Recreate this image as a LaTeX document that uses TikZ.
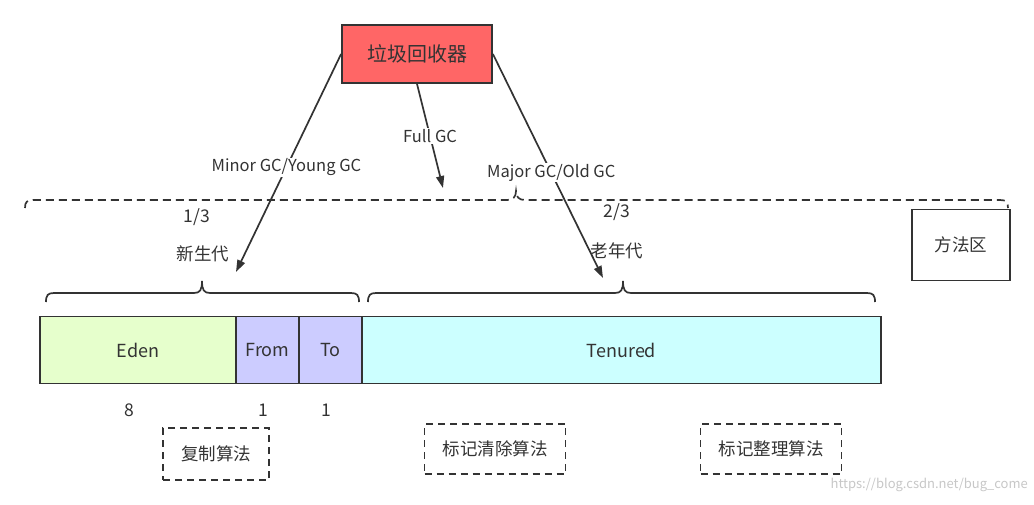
\documentclass[tikz,border=0pt]{standalone}
\usepackage{fontspec}
\setmainfont{Noto Sans CJK SC}
\usetikzlibrary{arrows.meta}
\definecolor{ln}{HTML}{333333}
\definecolor{redbox}{HTML}{FF6666}
\definecolor{edenc}{HTML}{E6FFCC}
\definecolor{survc}{HTML}{CCCCFF}
\definecolor{tenc}{HTML}{CCFFFF}
\tikzset{
  arr/.style={draw=ln, line width=1.7pt, -{Triangle[length=12pt,width=8pt]}},
  lbl/.style={fill=white, inner sep=1pt, font=\fontsize{16.5}{19}\selectfont, text=ln},
  txt/.style={font=\fontsize{17.5}{20}\selectfont, text=ln},
  cell/.style={draw=ln, line width=1.8pt, minimum height=67pt, font=\fontsize{18}{21}\selectfont, text=ln, inner sep=0pt},
  algbox/.style={draw=ln, line width=1.7pt, dash pattern=on 7pt off 5pt, inner sep=0pt, font=\fontsize{17.5}{20}\selectfont, text=ln},
  bracel/.style={draw=ln, line width=1.7pt}
}
\begin{document}
\begin{tikzpicture}[x=1pt,y=-1pt]
\useasboundingbox (0,0) rectangle (1034,504);
% garbage collector box
\node[draw=ln, line width=1.8pt, fill=redbox, minimum width=150pt, minimum height=58pt, inner sep=0pt, font=\fontsize{20}{24}\selectfont, text=ln] (gc) at (417,54) {垃圾回收器};
% end points of arrows
\coordinate (youngend) at (236,272);
\coordinate (fullend) at (443,188);
\coordinate (oldend) at (603,278);
\draw[arr] (gc.west) -- node[lbl, pos=0.52] {Minor GC/Young GC} (youngend);
\draw[arr] (gc.south) -- node[lbl, pos=0.5] {Full GC} (fullend);
\draw[arr] (gc.east) -- node[lbl, pos=0.53] {Major GC/Old GC} (oldend);
% dashed top brace
\draw[bracel, dash pattern=on 8pt off 5pt] (25,208) .. controls (25,202) and (27,200) .. (33,200) -- (507,200) .. controls (513,200) and (516,197) .. (516,191) .. controls (516,197) and (519,200) .. (525,200) -- (1000,200) .. controls (1006,200) and (1008,202) .. (1008,208);
% labels
\node[txt] (f13) at (197,217) {1/3};
\node[txt] (young) at (203,254) {新生代};
\node[txt] (f23) at (617,212) {2/3};
\node[txt] (old) at (617,251) {老年代};
% method area
\node[draw=ln, line width=1.7pt, minimum width=98pt, minimum height=71pt, inner sep=0pt, txt] (method) at (961,245) {方法区};
% braces
\draw[bracel] (46,302) .. controls (46,295) and (48,293) .. (54,293) -- (194,293) .. controls (200,293) and (202,290) .. (202,281) .. controls (202,290) and (204,293) .. (210,293) -- (351,293) .. controls (357,293) and (359,295) .. (359,302);
\draw[bracel] (368,302) .. controls (368,295) and (370,293) .. (376,293) -- (615,293) .. controls (621,293) and (623,290) .. (623,281) .. controls (623,290) and (625,293) .. (631,293) -- (867,293) .. controls (873,293) and (875,295) .. (875,302);
% heap bar
\node[cell, fill=edenc, minimum width=196pt] (eden) at (138,350) {Eden};
\node[cell, fill=survc, minimum width=63pt] (from) at (267.5,350) {From};
\node[cell, fill=survc, minimum width=63pt] (to) at (330.5,350) {To};
\node[cell, fill=tenc, minimum width=519pt] (ten) at (621.5,350) {Tenured};
% ratios
\node[txt] (r8) at (129,410) {8};
\node[txt] (r1a) at (263,410) {1};
\node[txt] (r1b) at (326,410) {1};
% algorithm boxes
\node[algbox, minimum width=106pt, minimum height=52pt] (copy) at (216,454) {复制算法};
\node[algbox, minimum width=141pt, minimum height=50pt] (sweep) at (495,449) {标记清除算法};
\node[algbox, minimum width=141pt, minimum height=50pt] (compact) at (771,449) {标记整理算法};
% watermark
\node[font=\fontsize{13}{15}\selectfont, text=black!22, anchor=east, inner sep=0pt] (wm) at (1028,485) {https://blog.csdn.net/bug\_come};
\end{tikzpicture}
\end{document}
